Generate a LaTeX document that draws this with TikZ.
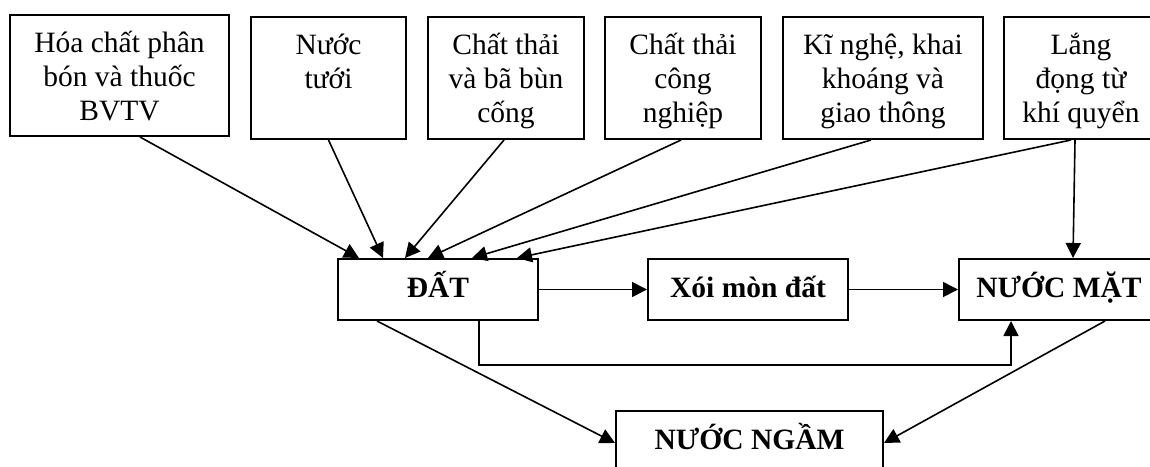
\documentclass[tikz,border=0pt]{standalone}
\usepackage{fontspec}
\setmainfont{Liberation Serif}
\usetikzlibrary{arrows.meta}

% text of a source box: lines set from the top, first baseline 37pt down
\newcommand\srctext[3]{\parbox[c][#2][t]{#1}{\centering
  \fontsize{29.5}{34}\selectfont\rule{0pt}{37pt}#3}}

\begin{document}
\begin{tikzpicture}[x=1pt,y=-1pt,
  srcbox/.style={draw, line width=2pt, inner sep=0pt, anchor=north west},
  midbox/.style={draw, line width=2pt, inner sep=0pt,
    minimum width=200pt, minimum height=61pt,
    font=\fontsize{29.5}{34}\selectfont\bfseries,
    text height=20pt, text depth=5pt},
  conn/.style={line width=1.6pt, -{Triangle[length=15pt,width=15pt]}}]
\useasboundingbox (0,0) rectangle (1150,466);
\clip (0,0) rectangle (1150,466);

% sources of pollution
\node[srcbox] (b1) at (9,14)    {\srctext{219pt}{121pt}{Hóa chất phân\\bón và thuốc\\BVTV}};
\node[srcbox] (b2) at (250,16)  {\srctext{155pt}{122pt}{Nước\\tưới}};
\node[srcbox] (b3) at (427,16)  {\srctext{156pt}{122pt}{Chất thải\\và bã bùn\\cống}};
\node[srcbox] (b4) at (604,16)  {\srctext{156pt}{122pt}{Chất thải\\công\\nghiệp}};
\node[srcbox] (b5) at (782,16)  {\srctext{200pt}{122pt}{Kĩ nghệ, khai\\khoáng và\\giao thông}};
\node[srcbox] (b6) at (1003,16) {\srctext{154pt}{122pt}{Lắng\\đọng từ\\khí quyển}};

% receiving media
\node[midbox] (dat) at (438,289.5)  {ĐẤT};
\node[midbox] (xoi) at (748,289.5)  {Xói mòn đất};
\node[midbox] (mat) at (1059,289.5) {NƯỚC MẶT};
\node[midbox, anchor=north, minimum width=267pt, minimum height=70pt,
      text depth=14pt] (ngam) at (749.5,410) {NƯỚC NGẦM};

% inputs to the soil
\draw[conn] ([xshift=20.5pt]b1.south) -- ([xshift=-79pt]dat.north);
\draw[conn] (b2.south)                -- ([xshift=-55pt]dat.north);
\draw[conn] ([xshift=-2pt]b3.south)   -- ([xshift=-33pt]dat.north);
\draw[conn] ([xshift=-2pt]b4.south)   -- ([xshift=-10pt]dat.north);
\draw[conn] ([xshift=-12pt]b5.south)  -- ([xshift=34pt]dat.north);
\draw[conn] ([xshift=-10pt]b6.south)  -- ([xshift=79pt]dat.north);
\draw[conn] ([xshift=-6pt]b6.south)   -- ([xshift=14pt]mat.north);

% transfers between media
\draw[conn] (dat.east) -- (xoi.west);
\draw[conn] (xoi.east) -- (mat.west);
\draw[conn] ([xshift=41pt]dat.south) -- ++(0,44) -| ([xshift=-48pt]mat.south);
\draw[conn] ([xshift=-61pt]dat.south) -- ([yshift=-33pt]ngam.north west);
\draw[conn] ([xshift=46pt]mat.south)  -- ([yshift=-33pt]ngam.north east);
\end{tikzpicture}
\end{document}
